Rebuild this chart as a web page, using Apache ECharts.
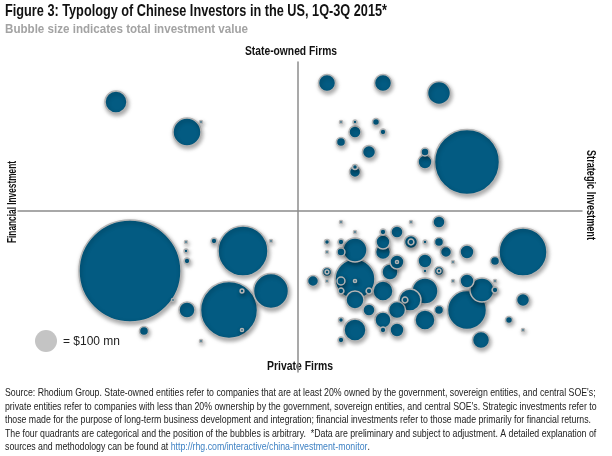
<!DOCTYPE html>
<html><head><meta charset="utf-8">
<script src="https://cdn.jsdelivr.net/npm/echarts@6/dist/echarts.min.js"></script>
<style>html,body{margin:0;padding:0;background:#fff}#c{width:612px;height:456px}</style>
</head><body><div id="c"></div>
<script>
// Quadrant coordinates (arbitrary positions; 0,0 = centre of the quadrants), value = investment in $ mn
const bubbleX = [-182,-111,-97, 29,85,141,43,57,78,57,85,43,71,57,57,127,127,169,
  -168,-112,-112,-111,-84,-55,-27,-27,-69,-56,-56,-111,-154,-97,-125,
  43,113,141,57,99,85,29,43,113,113,127,141,85,29,43,57,85,148,169,225,99,99,127,155,197,
  29,29,57,92,127,141,141,15,29,43,57,155,169,184,197,197,43,71,85,127,112,57,107,169,225,
  71,99,141,127,85,43,57,85,99,211,225,43,183];
const bubbleY = [109,79,89, 128,128,118,89,89,89,79,79,69,59,39,44,59,49,49,
  -60,-31,-40,-50,-30,-40,-30,-80,-99,-80,-119,-99,-120,-130,-89,
  -11,-11,-11,-21,-21,-21,-31,-31,-31,-31,-31,-31,-31,-41,-41,-39,-41,-41,-41,-41,-51,-51,-50,-51,-50,
  -61,-61,-68,-61,-60,-60,-60,-70,-70,-70,-70,-70,-70,-79,-70,-79,-80,-80,-80,-80,-89,-89,-89,-99,-89,
  -99,-99,-99,-109,-109,-109,-119,-119,-119,-109,-119,-129,-129];
const bubbleValue = [100,162,2, 60,60,109,2,3,10,30,7,17,35,25,5,13,40,873,
  2149,2,3,7,7,516,2,253,671,3,2,53,17,2,2,
  2,2,30,2,30,7,5,7,35,7,3,17,40,2,13,119,46,25,40,476,40,2,40,2,17,
  17,3,330,53,3,17,3,25,2,13,2,2,40,119,2,7,7,7,83,140,100,67,7,314,35,
  30,60,17,83,53,5,100,7,40,10,2,7,60];
const legendPoint = [-252, -130, 100];
const legendText = '= $100 mn';

const titleText = 'Figure 3: Typology of Chinese Investors in the US, 1Q-3Q 2015*';
const subtitleText = 'Bubble size indicates total investment value';
const topLabel = 'State-owned Firms';
const bottomLabel = 'Private Firms';
const leftLabel = 'Financial Investment';
const rightLabel = 'Strategic Investment';
const noteLines = [
  "Source: Rhodium Group. State-owned entities refer to companies that are at least 20% owned by the government, sovereign entities, and central SOE's;",
  "private entities refer to companies with less than 20% ownership by the government, sovereign entities, and central SOE's. Strategic investments refer to",
  "those made for the purpose of long-term business development and integration; financial investments refer to those made primarily for financial returns.",
  "The four quadrants are categorical and the position of the bubbles is arbitrary.  *Data are preliminary and subject to adjustment. A detailed explanation of",
  "sources and methodology can be found at "
];
const noteLink = 'http://rhg.com/interactive/china-investment-monitor';

const NARROW = "'Liberation Sans Narrow','Liberation Sans',Arial,sans-serif";
const mctx = document.createElement('canvas').getContext('2d');
function measure(text, font){ mctx.font = font; return mctx.measureText(text).width; }
function fitScale(text, font, w){ return w / measure(text, font); }

const sizeOf = v => 22 * Math.sqrt(v / 100);

const data = bubbleX.map((x, i) => [x, bubbleY[i], bubbleValue[i]])
  .sort((a, b) => b[2] - a[2]);

const titleFont = 'bold 17px ' + NARROW;
const subFont = 'bold 12px ' + NARROW;
const labFont = 'bold 12px ' + NARROW;
const noteFont = '11px ' + NARROW;
const noteScale = fitScale(noteLines[2], noteFont, 586);

const graphics = [];
function txt(text, font, x, y, w, opts){
  const s = fitScale(text, font, w);
  graphics.push(Object.assign({type:'text', x, y, scaleX:s, silent:true,
    style:{text, font, fill: (opts && opts.fill) || '#111', textAlign:(opts&&opts.align)||'left', verticalAlign:'middle'}},
    opts && opts.rotation !== undefined ? {rotation: opts.rotation} : {}));
}
txt(titleText, titleFont, 5, 11, 382);
txt(subtitleText, subFont, 5, 30, 243, {fill:'#a3a3a3'});
txt(topLabel, labFont, 291, 52, 92, {align:'center'});
txt(bottomLabel, labFont, 300, 367, 66, {align:'center'});
txt(leftLabel, labFont, 13, 202, 82, {align:'center', rotation: Math.PI/2});
txt(rightLabel, labFont, 590, 195, 90, {align:'center', rotation: -Math.PI/2});
txt(legendText, '13px Arial, "Liberation Sans", sans-serif', 63, 341, 57, {fill:'#222'});
const noteY = [393, 406.5, 420, 433.5, 447];
noteLines.forEach((t, i) => {
  graphics.push({type:'text', x:5, y:noteY[i], scaleX:noteScale, silent:true,
    style:{text:t, font:noteFont, fill:'#222', textAlign:'left', verticalAlign:'middle'}});
});
const pre = measure(noteLines[4], noteFont) * noteScale;
graphics.push({type:'text', x:5 + pre, y:noteY[4], scaleX:noteScale, silent:true,
  style:{text:noteLink, font:noteFont, fill:'#3f82c4', textAlign:'left', verticalAlign:'middle'}});
const linkW = measure(noteLink, noteFont) * noteScale;
graphics.push({type:'text', x:5 + pre + linkW, y:noteY[4], scaleX:noteScale, silent:true,
  style:{text:'.', font:noteFont, fill:'#222', textAlign:'left', verticalAlign:'middle'}});

const chart = echarts.init(document.getElementById('c'), null, {renderer:'canvas'});
chart.setOption({
  animation: false,
  grid: {left:18, right:30, top:62, bottom:84},
  xAxis: {type:'value', min:-280, max:284, splitLine:{show:false}, axisTick:{show:false}, axisLabel:{show:false},
    axisLine:{show:true, onZero:true, lineStyle:{color:'#8c8c8c', width:1.5}}},
  yAxis: {type:'value', min:-161, max:149, splitLine:{show:false}, axisTick:{show:false}, axisLabel:{show:false},
    axisLine:{show:true, onZero:true, lineStyle:{color:'#8c8c8c', width:1.5}}},
  series: [
    {type:'scatter', data: data, symbolSize: d => sizeOf(d[2]), silent:true,
      itemStyle:{color:'#035b82', borderColor:'#b4b4b4', borderWidth:1.5, opacity:1,
        shadowBlur:4, shadowColor:'rgba(0,0,0,0.35)', shadowOffsetX:1, shadowOffsetY:2}},
    {type:'scatter', data:[legendPoint], symbolSize: d => sizeOf(d[2]), silent:true,
      itemStyle:{color:'#c4c4c4', opacity:1}}
  ],
  graphic: graphics
});
</script>
</body></html>
